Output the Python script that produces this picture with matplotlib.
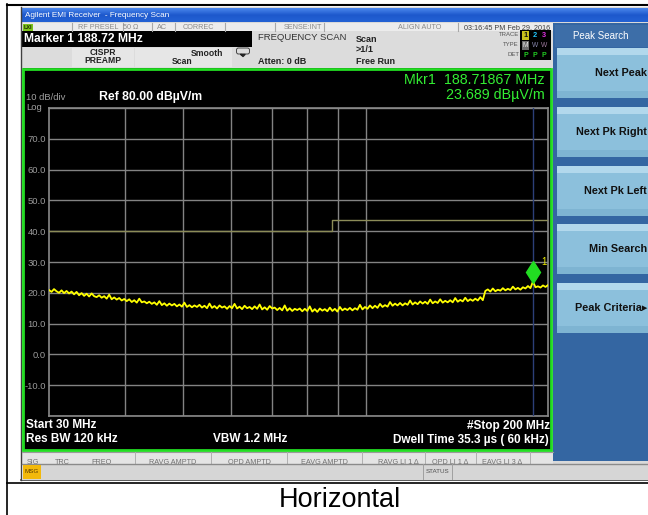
import numpy as np
import matplotlib
matplotlib.use("Agg")
import matplotlib.pyplot as plt
from matplotlib.patches import Rectangle
from matplotlib.colors import LinearSegmentedColormap
from matplotlib import transforms

plt.rcParams['font.family'] = ['Liberation Sans', 'DejaVu Sans']

# sweep settings
start_mhz = 30
stop_mhz = 200
ref_level = 80
bottom_level = -20

# trace in dBuV/m, sweep points evenly spaced on the log frequency axis
trace_levels = [
    20.9, 20.3, 21.2, 20.5, 20.0, 20.8, 19.9, 20.6, 19.8, 20.4,
    19.5, 20.3, 19.2, 19.9, 19.0, 19.7, 18.8, 19.8, 18.9, 18.6,
    19.2, 18.4, 18.9, 18.1, 19.4, 17.9, 18.5, 17.8, 18.3, 17.5,
    18.0, 17.3, 17.9, 17.0, 17.6, 16.8, 18.1, 16.9, 17.2, 16.6,
    17.1, 16.4, 16.9, 16.1, 17.3, 16.0, 16.6, 15.8, 16.5, 15.9,
    16.4, 15.6, 16.2, 15.5, 16.8, 15.4, 16.0, 15.3, 15.9, 15.4,
    16.1, 15.2, 15.8, 15.0, 16.5, 15.1, 15.7, 14.9, 15.9, 15.2,
    15.6, 14.8, 15.7, 15.0, 16.4, 14.9, 15.5, 14.7, 15.8, 15.0,
    15.4, 14.7, 15.6, 14.8, 16.2, 14.6, 15.3, 14.5, 15.7, 14.9,
    15.2, 14.4, 15.1, 14.3, 15.9, 14.2, 15.0, 14.1, 14.8, 14.4,
    14.9, 14.0, 14.8, 14.1, 15.6, 13.9, 14.7, 13.8, 14.9, 14.2,
    14.7, 14.0, 15.2, 14.1, 14.8, 13.9, 15.4, 14.3, 14.9, 14.4,
    15.1, 14.3, 15.0, 14.5, 16.1, 14.6, 15.4, 14.8, 15.9, 15.0,
    15.8, 15.1, 16.4, 15.4, 16.0, 15.5, 17.0, 15.8, 16.5, 15.9,
    16.7, 15.9, 16.6, 16.1, 17.5, 16.2, 16.9, 16.3, 17.2, 16.5,
    17.1, 16.4, 17.8, 16.6, 17.2, 16.7, 17.9, 16.8, 17.4, 16.9,
    17.6, 16.9, 18.3, 17.1, 17.7, 17.2, 18.4, 17.3, 17.9, 17.4,
    18.1, 17.5, 18.6, 17.6, 20.6, 21.1, 20.4, 21.4, 20.5, 21.0,
    20.7, 21.5, 20.8, 21.3, 20.9, 22.0, 21.1, 21.6, 21.0, 21.8,
    21.4, 22.2, 21.5, 23.7, 21.8, 22.1, 21.7, 22.4, 21.9, 22.5,
]

# limit line
limit_freqs = [30, 88, 88, 200]
limit_levels = [40, 40, 43.5, 43.5]

mkr_freq = 188.71867
mkr_level = 23.689

y_ticks = [80, 70, 60, 50, 40, 30, 20, 10, 0, -10, -20]
y_tick_labels = ['', '70.0', '60.0', '50.0', '40.0', '30.0', '20.0', '10.0', '0.0', '-10.0', '']
freq_grid = [40, 50, 60, 70, 80, 90, 100]

softkeys = ['Next Peak', 'Next Pk Right', 'Next Pk Left', 'Min Search', 'Peak Criteria\u25b8']

status_labels = [('RF PRESEL', 98), ('50 \u03a9', 131), ('AC', 162), ('CORREC', 198),
                 ('SENSE:INT', 303), ('ALIGN AUTO', 420), ('03:16:45 PM Feb 29, 2016', 507)]
status_seps = [72, 123, 152, 175, 225, 275, 324, 458]

column_heads = [('SIG', 33), ('TRC', 62), ('FREQ', 101), ('RAVG AMPTD', 173), ('QPD AMPTD', 249),
                ('EAVG AMPTD', 324), ('RAVG LI 1 \u0394', 398), ('QPD LI 1 \u0394', 450),
                ('EAVG LI 3 \u0394', 502)]
column_seps = [135, 211, 287, 362, 425, 476, 530]

W, H = 648, 515
fig = plt.figure(figsize=(W / 100, H / 100), dpi=100)
fig.patch.set_facecolor('white')

bg = fig.add_axes([0, 0, 1, 1])
bg.axis('off')


def rect(x0, y0, x1, y1, color, **kw):
    bg.add_patch(Rectangle((x0, y0), x1 - x0, y1 - y0, facecolor=color, edgecolor='none', **kw))


def txt(x, y, s, **kw):
    kw.setdefault('va', 'center')
    bg.text(x, y, s, **kw)


# table cell lines around the screenshot
bg.plot([7, 7], [4, H], color='black', lw=1.2)
bg.plot([7, W], [4.5, 4.5], color='black', lw=1.5)
bg.plot([7, W], [483, 483], color='black', lw=1.2)

# screenshot base
rect(21, 7, W, 480, '#d9d9d9')
bg.plot([21, 21], [7, 480], color='#404040', lw=1)
bg.plot([21, W], [480, 480], color='#404040', lw=1.2)

# title bar
cm = LinearSegmentedColormap.from_list('tb', ['#4a86ec', '#1d58cc', '#2462d4'])
bg.imshow(np.linspace(0, 1, 20).reshape(-1, 1), cmap=cm, aspect='auto',
          extent=(21.5, W, 22, 8), zorder=1)
txt(25, 15.5, 'Agilent EMI Receiver  - Frequency Scan', color='white', fontsize=5.9, zorder=3)

# status row
rect(22, 23, 553, 31, '#ececec')
for sx in status_seps:
    bg.plot([sx, sx], [23, 31], color='#a8a8a8', lw=0.8)
for s, cx in status_labels:
    col = '#404040' if s.startswith('03') else '#8a8a8a'
    txt(cx, 27.3, s, ha='center', fontsize=5.2, color=col)
rect(22.5, 23.5, 33, 31, '#7cc21c')
txt(27.7, 27.3, 'LXI', ha='center', fontsize=4, color='#203000', fontweight='bold')

# marker readout box and setting rows
rect(22, 31, 553, 67.5, '#dcdcdc')
rect(22, 31, 252, 47, 'black')
txt(24, 39.5, 'Marker 1 188.72 MHz', color='white', fontsize=8.7, fontweight='bold')
rect(72, 47.5, 134, 67, '#e6e6e6')
rect(135, 47.5, 232, 67, '#e6e6e6')
txt(103, 52.5, 'CISPR', ha='center', fontsize=6.2, fontweight='bold', color='#222222')
txt(103, 60.5, 'PREAMP', ha='center', fontsize=6.2, fontweight='bold', color='#222222')
txt(223, 54, 'Smooth', ha='right', fontsize=6.2, fontweight='bold', color='#222222')
txt(182, 62, 'Scan', ha='center', fontsize=6.2, fontweight='bold', color='#222222')
bg.add_patch(matplotlib.patches.FancyBboxPatch((237, 48.5), 12, 5, boxstyle='round,pad=0.5,rounding_size=2',
                                               facecolor='none', edgecolor='#444444', lw=0.7))
bg.plot([241, 245, 243, 241], [54.5, 54.5, 56.5, 54.5], color='#222222', lw=1)
txt(258, 37, 'FREQUENCY SCAN', fontsize=6.8, color='#333333')
txt(258, 62, 'Atten: 0 dB', fontsize=6.5, fontweight='bold', color='#222222')
txt(356, 39, 'Scan', fontsize=6.5, fontweight='bold', color='#222222')
txt(356, 50, '>1/1', fontsize=6.5, fontweight='bold', color='#222222')
txt(356, 61, 'Free Run', fontsize=6.5, fontweight='bold', color='#222222')

# trace status block
for lab, yy in [('TRACE', 35), ('TYPE', 45), ('DET', 55)]:
    txt(519, yy, lab, ha='right', fontsize=4.3, color='#555555')
rect(520, 30, 551, 59.5, 'black')
rect(522, 31, 529, 39.5, '#c8c01c')
rect(522, 41, 529, 49.5, '#6e6e6e')
for cx, num, ncol, tcol in [(525.5, '1', '#101010', '#e8e8e8'), (535, '2', '#22c8ff', '#8a8ab0'),
                            (544, '3', '#e030e0', '#a07aa0')]:
    txt(cx, 35.3, num, ha='center', fontsize=5.3, fontweight='bold', color=ncol)
    txt(cx, 45.3, 'M' if num == '1' else 'W', ha='center', fontsize=4.8, color=tcol)
    txt(cx, 55.3, 'P', ha='center', fontsize=5, fontweight='bold', color='#22cc22')

# soft key panel
rect(553, 23, W, 461, '#3466a2')
rect(555, 25, W, 47, '#3d6ea8')
txt(601, 36, 'Peak Search', ha='center', fontsize=7, color='white')
for i, key in enumerate(softkeys):
    y0 = 48 + i * 58.75
    rect(557, y0, W, y0 + 50, '#8cc0dc')
    rect(557, y0, W, y0 + 7, '#b2d8ec')
    rect(557, y0 + 43, W, y0 + 50, '#7eb4d2')
    txt(647, y0 + 25, key, ha='right', fontsize=7.8, fontweight='bold', color='#111111')

# black display area with green frame
rect(23, 68, 551, 449.5, 'black')
bg.add_patch(Rectangle((23, 68.5), 528, 381, facecolor='none', edgecolor='#22dd22', lw=2, zorder=4))

txt(26, 97, '10 dB/div', fontsize=6.8, color='#a0a0a0')
txt(26, 107, 'Log', fontsize=6.8, color='#a0a0a0')
txt(99, 97, 'Ref 80.00 dB\u00b5V/m', fontsize=8.8, fontweight='bold', color='white')
txt(545, 79.5, 'Mkr1  188.71867 MHz', ha='right', fontsize=10.3, color='#33ee33')
txt(545, 94.5, '23.689 dB\u00b5V/m', ha='right', fontsize=10.3, color='#33ee33')
txt(26, 425.5, 'Start 30 MHz', fontsize=8.5, fontweight='bold', color='white')
txt(26, 439.5, 'Res BW 120 kHz', fontsize=8.5, fontweight='bold', color='white')
txt(213, 439.5, 'VBW 1.2 MHz', fontsize=8.5, fontweight='bold', color='white')
txt(550, 425.5, '#Stop 200 MHz', ha='right', fontsize=8.5, fontweight='bold', color='white')
txt(549, 439.5, 'Dwell Time 35.3 \u00b5s ( 60 kHz)', ha='right', fontsize=8.5, fontweight='bold', color='white')

# marker table header row (half hidden) and message bar
rect(22, 451, 553, 464, '#e4e4e4')
bg.plot([22, 553], [451.5, 451.5], color='#9a9a9a', lw=0.8)
for cx in column_seps:
    bg.plot([cx, cx], [452, 464], color='#b0b0b0', lw=0.7)
for s, cx in column_heads:
    txt(cx, 463, s, ha='center', fontsize=5.2, color='#707070', zorder=2)
rect(21.5, 463.5, W, 479.5, '#d6d6d6', zorder=3)
bg.plot([21.5, W], [463.5, 463.5], color='#8a8a8a', lw=1, zorder=3)
rect(23, 464.5, 41, 479, '#f2b90c', zorder=3)
txt(32, 471.5, 'MSG', ha='center', fontsize=4.5, color='#5a3a00', zorder=4)
bg.plot([423, 423], [464, 479], color='#a0a0a0', lw=0.7, zorder=4)
bg.plot([452, 452], [464, 479], color='#a0a0a0', lw=0.7, zorder=4)
txt(437.5, 471.5, 'STATUS', ha='center', fontsize=4.5, color='#505050', zorder=4)

# caption under the screenshot
txt(340, 500, 'Horizontal', ha='center', fontsize=19.5, color='black')

bg.set_xlim(0, W)
bg.set_ylim(H, 0)

# graticule
ax = fig.add_axes([49 / W, 1 - 416 / H, (548 - 49) / W, (416 - 108) / H])
ax.set_facecolor('black')
ax.set_xscale('log')
ax.set_xlim(start_mhz, stop_mhz)
ax.set_ylim(bottom_level, ref_level)
ax.set_xticks(freq_grid)
ax.set_xticks([], minor=True)
ax.set_xticklabels([])
ax.set_yticks(y_ticks)
ax.set_yticklabels(y_tick_labels)
ax.tick_params(axis='x', length=0)
ax.tick_params(axis='y', length=0, pad=2.2, labelsize=6.8, labelcolor='#9a9a9a')
ax.grid(True, color='#838383', lw=1)
for sp in ax.spines.values():
    sp.set_color('#8a8a8a')
    sp.set_linewidth(1.2)

sweep = np.geomspace(start_mhz, stop_mhz, len(trace_levels))
ax.plot(limit_freqs, limit_levels, color='#8c8c58', lw=1, zorder=3)
ax.axvline(mkr_freq, color='#2c3f78', lw=1, zorder=3)
ax.plot(sweep, trace_levels, color='#ffff00', lw=1.3, zorder=4)

up = transforms.offset_copy(ax.transData, fig=fig, x=0, y=7, units='points')
ax.plot([mkr_freq], [mkr_level], marker='d', markersize=11.5, color='#22dd22',
        markeredgecolor='#22dd22', transform=up, zorder=5, clip_on=False)
ax.annotate('1', (mkr_freq, mkr_level), xytext=(6, 12), textcoords='offset points',
            color='#e8e800', fontsize=7, zorder=6)

fig.savefig('out.png', dpi=100)
